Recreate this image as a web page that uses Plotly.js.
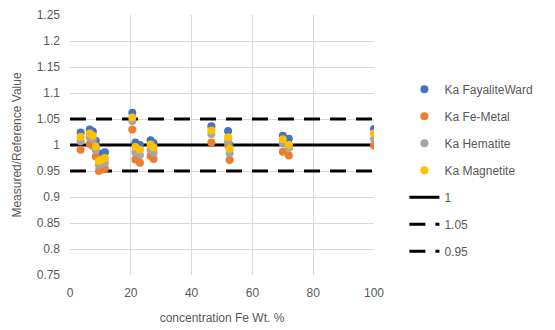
<!DOCTYPE html>
<html>
<head>
<meta charset="utf-8">
<script src="https://cdn.plot.ly/plotly-3.0.1.min.js"></script>
<style>html,body{margin:0;padding:0;background:#fff;}#chart{width:555px;height:330px;}</style>
</head>
<body>
<div id="chart"></div>
<script>
// concentration Fe Wt. % for each standard
const conc = [3.5, 6.5, 7.5, 8.5, 9.5, 10.5, 11.5, 20.5, 21.5, 23, 26.5, 27.5, 46.5, 52, 52.5, 70, 72, 100];
const fayaliteWard = [1.024, 1.030, 1.026, 1.008, 0.980, 0.983, 0.986, 1.062, 1.005, 1.000, 1.009, 1.004, 1.036, 1.027, 1.000, 1.018, 1.012, 1.031];
const feMetal      = [0.991, 1.002, 0.998, 0.978, 0.950, 0.953, 0.955, 1.030, 0.972, 0.966, 0.979, 0.973, 1.005, 1.000, 0.971, 0.987, 0.980, 0.999];
const hematite     = [1.007, 1.015, 1.010, 0.990, 0.961, 0.964, 0.966, 1.046, 0.986, 0.981, 0.991, 0.985, 1.021, 1.007, 0.984, 1.003, 0.994, 1.012];
const magnetite    = [1.016, 1.022, 1.018, 0.997, 0.969, 0.972, 0.975, 1.053, 0.996, 0.991, 1.001, 0.995, 1.028, 1.015, 0.993, 1.011, 1.000, 1.022];
const lineX = [0, 100];
const ref1 = [1, 1];
const ref105 = [1.05, 1.05];
const ref095 = [0.95, 0.95];
const yTicks = [0.75, 0.8, 0.85, 0.9, 0.95, 1, 1.05, 1.1, 1.15, 1.2, 1.25];
const xTicks = [0, 20, 40, 60, 80, 100];

const mk = (name, y, color, g, rank) => ({
  x: conc, y: y, name: name, type: 'scatter', mode: 'markers', legendgroup: g, legendrank: rank,
  marker: {color: color, size: 8}
});
const ln = (name, y, dash, g, rank) => ({
  x: lineX, y: y, name: name, type: 'scatter', mode: 'lines', legendgroup: g, legendrank: rank,
  line: {color: '#000000', width: 3, dash: dash}
});

const data = [
  ln('0.95', ref095, '16px,10px', 'g7', 7),
  ln('1.05', ref105, '16px,10px', 'g6', 6),
  ln('1', ref1, 'solid', 'g5', 5),
  mk('Ka FayaliteWard', fayaliteWard, '#4472C4', 'g1', 1),
  mk('Ka Fe-Metal', feMetal, '#ED7D31', 'g2', 2),
  mk('Ka Hematite', hematite, '#A5A5A5', 'g3', 3),
  mk('Ka Magnetite', magnetite, '#FFC000', 'g4', 4)
];

const layout = {
  width: 555, height: 330,
  margin: {l: 70, r: 181, t: 15, b: 55},
  paper_bgcolor: '#ffffff', plot_bgcolor: '#ffffff',
  font: {family: 'Liberation Sans, Arial, sans-serif', size: 12, color: '#595959'},
  showlegend: true,
  legend: {x: 1.10, y: 0.77, xanchor: 'left', yanchor: 'top', traceorder: 'grouped',
           tracegroupgap: 8, font: {size: 12, color: '#595959'}, bgcolor: 'rgba(0,0,0,0)'},
  xaxis: {range: [0, 100], tickvals: xTicks, ticktext: xTicks.map(String), showgrid: true, gridcolor: '#d9d9d9',
          zeroline: false, showline: false, ticks: '', ticklen: 0, ticklabelstandoff: 9,
          title: {text: 'concentration Fe Wt. %', font: {size: 12, color: '#595959'}, standoff: 14}},
  yaxis: {range: [0.75, 1.25], tickvals: yTicks, ticktext: yTicks.map(String), showgrid: true, gridcolor: '#d9d9d9',
          zeroline: false, showline: false, ticks: '', ticklen: 0, ticklabelstandoff: 9,
          title: {text: 'Measured/Reference Value', font: {size: 12, color: '#595959'}, standoff: 12}}
};

Plotly.newPlot('chart', data, layout, {displayModeBar: false, staticPlot: true});
</script>
</body>
</html>
